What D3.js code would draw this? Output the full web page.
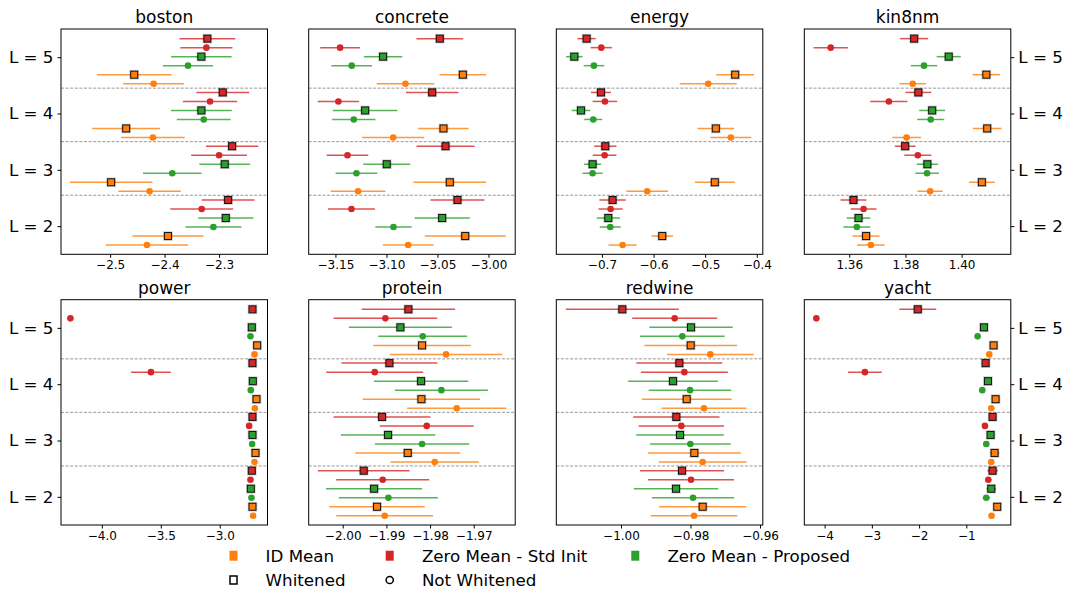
<html lang="en">
<head>
<meta charset="UTF-8">
<title>Log-likelihood by depth</title>
<script src="https://d3js.org/d3.v7.min.js"></script>
<style>
  body { margin: 0; background: #fff; }
  text { font-family: "DejaVu Sans", sans-serif; fill: #000; }
</style>
</head>
<body>
<script>
// Panels and groups
const datasets = ["boston", "concrete", "energy", "kin8nm", "power", "protein", "redwine", "yacht"];
const layers = [5, 4, 3, 2];
const layerLabels = ["L = 5", "L = 4", "L = 3", "L = 2"];

// Order of the six points inside one L group, top to bottom
const seriesMethod = ["std", "std", "prop", "prop", "id", "id"];
const seriesWhitened = [true, false, true, false, true, false];

// Legend entries
const methodKeys = ["id", "std", "prop"];
const methodNames = ["ID Mean", "Zero Mean - Std Init", "Zero Mean - Proposed"];
const markerNames = ["Whitened", "Not Whitened"];

// Means (rows: L = 5, 4, 3, 2; columns: series order above)
const bostonMean = [
  [-2.3215, -2.3233, -2.3325, -2.3571, -2.4558, -2.4202],
  [-2.2933, -2.3166, -2.3325, -2.3282, -2.4706, -2.4215],
  [-2.2761, -2.3000, -2.2896, -2.3859, -2.4982, -2.4276],
  [-2.2834, -2.3319, -2.2877, -2.3104, -2.3939, -2.4325]
];
const bostonErr = [
  [0.0512, 0.0479, 0.0555, 0.0460, 0.0684, 0.0558],
  [0.0485, 0.0500, 0.0558, 0.0494, 0.0623, 0.0586],
  [0.0479, 0.0512, 0.0466, 0.0537, 0.0758, 0.0574],
  [0.0485, 0.0577, 0.0506, 0.0515, 0.0650, 0.0755]
];
const concreteMean = [
  [-3.0477, -3.1454, -3.1033, -3.1340, -3.0251, -3.0814],
  [-3.0552, -3.1471, -3.1209, -3.1320, -3.0441, -3.0934],
  [-3.0421, -3.1382, -3.0997, -3.1294, -3.0379, -3.1278],
  [-3.0304, -3.1343, -3.0454, -3.0931, -3.0228, -3.0787]
];
const concreteErr = [
  [0.0229, 0.0195, 0.0188, 0.0199, 0.0229, 0.0283],
  [0.0257, 0.0203, 0.0317, 0.0212, 0.0247, 0.0304],
  [0.0284, 0.0204, 0.0230, 0.0204, 0.0356, 0.0268],
  [0.0265, 0.0230, 0.0271, 0.0178, 0.0397, 0.0248]
];
const energyMean = [
  [-0.7297, -0.7013, -0.7535, -0.7155, -0.4419, -0.4942],
  [-0.7019, -0.6942, -0.7406, -0.7168, -0.4794, -0.4503],
  [-0.6935, -0.6948, -0.7181, -0.7181, -0.4813, -0.6123],
  [-0.6794, -0.6832, -0.6877, -0.6839, -0.5832, -0.6600]
];
const energyErr = [
  [0.0177, 0.0206, 0.0161, 0.0200, 0.0365, 0.0552],
  [0.0194, 0.0239, 0.0181, 0.0174, 0.0355, 0.0397],
  [0.0216, 0.0229, 0.0165, 0.0197, 0.0387, 0.0403],
  [0.0255, 0.0235, 0.0226, 0.0203, 0.0210, 0.0274]
];
const kin8nmMean = [
  [1.3831, 1.3534, 1.3954, 1.3866, 1.4088, 1.3826],
  [1.3846, 1.3741, 1.3895, 1.3890, 1.4091, 1.3804],
  [1.3799, 1.3844, 1.3878, 1.3877, 1.4072, 1.3888],
  [1.3615, 1.3651, 1.3633, 1.3627, 1.3660, 1.3677]
];
const kin8nmErr = [
  [0.0050, 0.0061, 0.0043, 0.0047, 0.0049, 0.0047],
  [0.0046, 0.0066, 0.0046, 0.0048, 0.0051, 0.0051],
  [0.0037, 0.0048, 0.0038, 0.0042, 0.0046, 0.0045],
  [0.0046, 0.0046, 0.0042, 0.0048, 0.0048, 0.0049]
];
const powerMean = [
  [-2.7224, -4.2663, -2.7280, -2.7394, -2.6827, -2.7054],
  [-2.7224, -3.5836, -2.7195, -2.7365, -2.6884, -2.7025],
  [-2.7224, -2.7507, -2.7224, -2.7252, -2.6969, -2.7054],
  [-2.7280, -2.7394, -2.7365, -2.7309, -2.7224, -2.7167]
];
const powerErr = [
  [0.010, 0.010, 0.010, 0.010, 0.010, 0.010],
  [0.010, 0.1686, 0.010, 0.010, 0.010, 0.010],
  [0.010, 0.010, 0.010, 0.010, 0.010, 0.010],
  [0.010, 0.010, 0.010, 0.010, 0.010, 0.010]
];
const proteinMean = [
  [-1.98496, -1.99023, -1.98679, -1.98168, -1.98183, -1.97634],
  [-1.98931, -1.99267, -1.98206, -1.97740, -1.98198, -1.97389],
  [-1.99099, -1.98076, -1.98962, -1.98183, -1.98511, -1.97893],
  [-1.99519, -1.99084, -1.99282, -1.98954, -1.99214, -1.99038]
];
const proteinErr = [
  [0.01069, 0.01187, 0.01179, 0.01019, 0.01115, 0.01290],
  [0.01099, 0.01111, 0.01080, 0.01065, 0.01340, 0.01134],
  [0.01111, 0.01076, 0.01080, 0.01080, 0.01202, 0.01011],
  [0.01050, 0.01065, 0.01099, 0.01134, 0.01095, 0.01111]
];
const redwineMean = [
  [-0.99962, -0.98456, -0.97986, -0.98235, -0.97995, -0.97429],
  [-0.98321, -0.98177, -0.98504, -0.98014, -0.98110, -0.97612],
  [-0.98408, -0.98264, -0.98302, -0.98005, -0.97890, -0.97650],
  [-0.98245, -0.97986, -0.98417, -0.97928, -0.97650, -0.97899]
];
const redwineErr = [
  [0.01626, 0.01223, 0.01199, 0.01218, 0.01333, 0.01247],
  [0.01237, 0.01252, 0.01290, 0.01189, 0.01295, 0.01223],
  [0.01242, 0.01228, 0.01261, 0.01161, 0.01338, 0.01261],
  [0.01209, 0.01237, 0.01213, 0.01185, 0.01257, 0.01247]
];
const yachtMean = [
  [-2.0282, -4.1761, -0.6268, -0.7606, -0.4225, -0.5141],
  [-0.5915, -3.1479, -0.5423, -0.6620, -0.3803, -0.4718],
  [-0.4437, -0.6056, -0.4859, -0.5775, -0.4014, -0.4718],
  [-0.4437, -0.5352, -0.4718, -0.5775, -0.3451, -0.4648]
];
const yachtErr = [
  [0.391, 0.02, 0.04, 0.03, 0.05, 0.04],
  [0.04, 0.359, 0.04, 0.03, 0.04, 0.04],
  [0.05, 0.04, 0.06, 0.04, 0.10, 0.05],
  [0.11, 0.07, 0.10, 0.08, 0.05, 0.04]
];

// X ticks for each panel
const xTicks = [
  [-2.5, -2.4, -2.3],
  [-3.15, -3.10, -3.05, -3.00],
  [-0.7, -0.6, -0.5, -0.4],
  [1.36, 1.38, 1.40],
  [-4.0, -3.5, -3.0],
  [-2.00, -1.99, -1.98, -1.97],
  [-1.00, -0.98, -0.96],
  [-4, -3, -2, -1]
];
const xDecimals = [1, 2, 1, 2, 1, 2, 2, 0];

const means = [bostonMean, concreteMean, energyMean, kin8nmMean, powerMean, proteinMean, redwineMean, yachtMean];
const errs = [bostonErr, concreteErr, energyErr, kin8nmErr, powerErr, proteinErr, redwineErr, yachtErr];

// Layout
const w = 1068;
const h = 593;
const lefts = [61, 308.7, 556.3, 804.3];
const tops = [29, 299.7];
const pw = 206.5;
const ph = 225.3;
const xDomains = [
  [-2.5902, -2.2111], [-3.1762, -2.9738], [-0.7884, -0.3884], [1.344, 1.4175],
  [-4.346, -2.595], [-2.00779, -1.9605], [-1.01862, -0.9592], [-4.431, -0.058]
];
const colors = { id: "#ff7f0e", std: "#d62728", prop: "#2ca02c" };
// groups sit a bit tighter than the L ticks
const groupSpacing = 0.955;
const groupShift = 0.554;
const offsetStep = 0.16;
const separators = [4.45, 3.5, 2.548];

const minusFmt = (v, d) => (v < 0 ? "\u2212" : "") + Math.abs(v).toFixed(d);

const svg = d3.select("body")
  .append("svg")
  .attr("width", w)
  .attr("height", h)
  .attr("viewBox", [0, 0, w, h]);

datasets.forEach((name, i) => {
  const col = i % 4;
  const row = Math.floor(i / 4);
  const x0 = lefts[col];
  const y0 = tops[row];

  const x = d3.scaleLinear().domain(xDomains[i]).range([0, pw]);
  const y = d3.scaleLinear().domain([1.5, 5.5]).range([ph, 0]);

  const g = svg.append("g").attr("transform", `translate(${x0},${y0})`);

  // Title
  g.append("text")
    .attr("x", pw / 2)
    .attr("y", -12)
    .attr("dy", "0.35em")
    .attr("text-anchor", "middle")
    .style("font-size", "17px")
    .text(name);

  // Dashed separators between L groups
  g.selectAll(".sep")
    .data(separators)
    .enter()
    .append("line")
    .attr("x1", 0).attr("x2", pw)
    .attr("y1", d => y(d)).attr("y2", d => y(d))
    .attr("stroke", "#8c8c8c")
    .attr("stroke-width", 0.9)
    .attr("stroke-dasharray", "3,1.6");

  // Flatten points
  const pts = [];
  layers.forEach((L, li) => {
    for (let k = 0; k < 6; k++) {
      pts.push({
        pos: L * groupSpacing + groupShift - offsetStep * k,
        m: means[i][li][k],
        e: errs[i][li][k],
        method: seriesMethod[k],
        whitened: seriesWhitened[k]
      });
    }
  });

  // Error bars
  g.selectAll(".err")
    .data(pts)
    .enter()
    .append("line")
    .attr("x1", d => x(d.m - d.e))
    .attr("x2", d => x(d.m + d.e))
    .attr("y1", d => y(d.pos))
    .attr("y2", d => y(d.pos))
    .attr("stroke", d => colors[d.method])
    .attr("stroke-opacity", 0.8)
    .attr("stroke-width", 1.5);

  // Circles (not whitened)
  g.selectAll(".dot")
    .data(pts.filter(d => !d.whitened))
    .enter()
    .append("circle")
    .attr("cx", d => x(d.m))
    .attr("cy", d => y(d.pos))
    .attr("r", 3.3)
    .attr("fill", d => colors[d.method]);

  // Squares (whitened) with a soft grey halo
  const sq = g.selectAll(".sq")
    .data(pts.filter(d => d.whitened))
    .enter()
    .append("g")
    .attr("transform", d => `translate(${x(d.m)},${y(d.pos)})`);
  sq.append("rect")
    .attr("x", -4.8).attr("y", -4.8)
    .attr("width", 9.6).attr("height", 9.6)
    .attr("fill", "#000")
    .attr("fill-opacity", 0.2);
  sq.append("rect")
    .attr("x", -3.5).attr("y", -3.5)
    .attr("width", 7).attr("height", 7)
    .attr("fill", d => colors[d.method])
    .attr("stroke", "#111")
    .attr("stroke-width", 1);

  // Frame
  g.append("rect")
    .attr("width", pw)
    .attr("height", ph)
    .attr("fill", "none")
    .attr("stroke", "#000")
    .attr("stroke-width", 1);

  // X axis
  const xAxis = d3.axisBottom(x)
    .tickValues(xTicks[i])
    .tickSize(3.5)
    .tickPadding(3)
    .tickFormat(v => minusFmt(v, xDecimals[i]));
  const gx = g.append("g")
    .attr("transform", `translate(0,${ph})`)
    .call(xAxis);
  gx.select(".domain").remove();
  gx.selectAll("text")
    .style("font-size", "12px")
    .style("font-family", "DejaVu Sans, sans-serif")
    .attr("fill", "#000");

  // Y axis only on the outer columns
  if (col === 0 || col === 3) {
    const yAxis = (col === 0 ? d3.axisLeft(y) : d3.axisRight(y))
      .tickValues(layers)
      .tickSize(3.5)
      .tickPadding(4)
      .tickFormat((v, j) => layerLabels[j]);
    const gy = g.append("g")
      .attr("transform", col === 0 ? "translate(0,0)" : `translate(${pw},0)`)
      .call(yAxis);
    gy.select(".domain").remove();
    gy.selectAll("text")
      .style("font-size", "16.7px")
      .style("font-family", "DejaVu Sans, sans-serif")
      .attr("fill", "#000");
  }
});

// Legend
const legend = svg.append("g").attr("id", "legend");
const legendMarkerX = [233.5, 389.7, 635.3];
const legendTextX = [265.6, 421.9, 667.4];
const row1 = 555.7;
const row2 = 580;

methodKeys.forEach((key, j) => {
  legend.append("rect")
    .attr("x", legendMarkerX[j] - 4)
    .attr("y", row1 - 5)
    .attr("width", 8)
    .attr("height", 10)
    .attr("fill", colors[key]);
  legend.append("text")
    .attr("x", legendTextX[j])
    .attr("y", row1)
    .attr("dy", "0.35em")
    .style("font-size", "16.7px")
    .text(methodNames[j]);
});

legend.append("rect")
  .attr("x", legendMarkerX[0] - 3.5)
  .attr("y", row2 - 4)
  .attr("width", 7)
  .attr("height", 8)
  .attr("fill", "none")
  .attr("stroke", "#000")
  .attr("stroke-width", 1.5);
legend.append("circle")
  .attr("cx", legendMarkerX[1])
  .attr("cy", row2)
  .attr("r", 3.6)
  .attr("fill", "none")
  .attr("stroke", "#000")
  .attr("stroke-width", 1.5);
markerNames.forEach((t, j) => {
  legend.append("text")
    .attr("x", legendTextX[j])
    .attr("y", row2)
    .attr("dy", "0.35em")
    .style("font-size", "16.7px")
    .text(t);
});
</script>
</body>
</html>
